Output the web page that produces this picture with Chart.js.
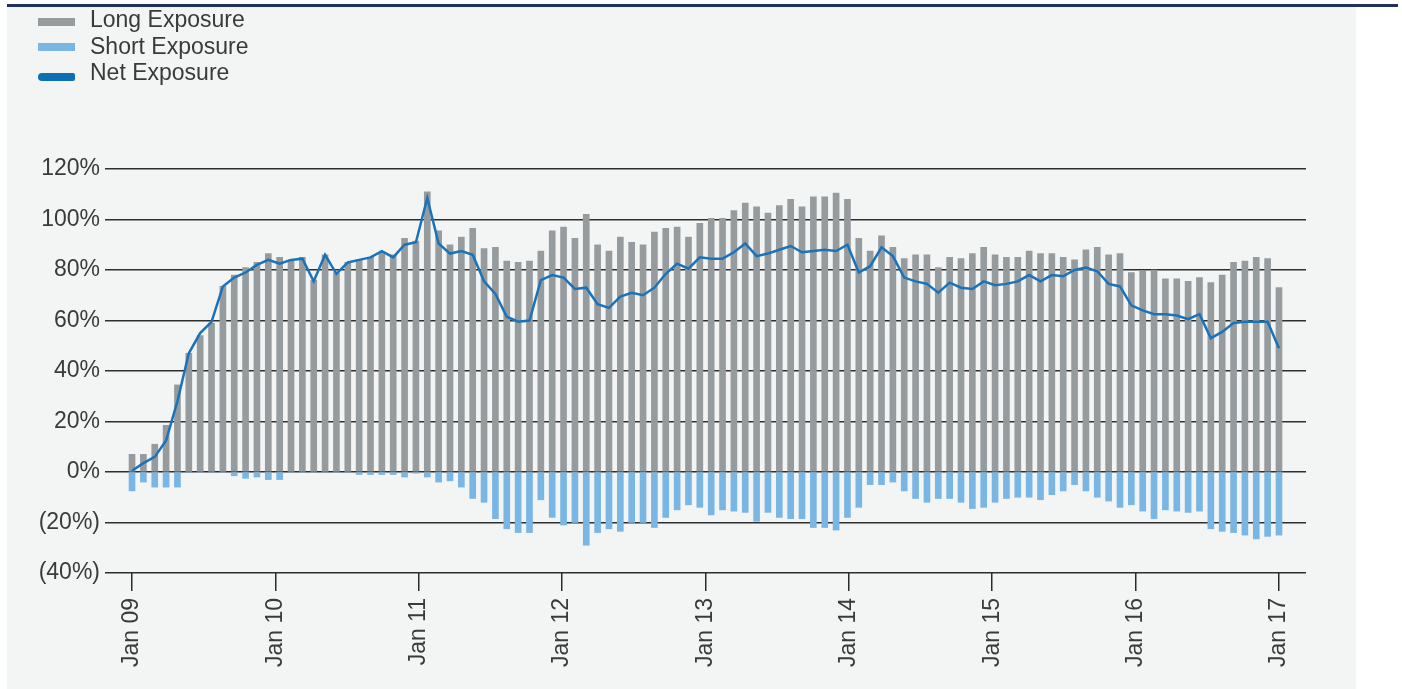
<!DOCTYPE html>
<html>
<head>
<meta charset="utf-8">
<script src="https://cdn.jsdelivr.net/npm/chart.js@4.4.1/dist/chart.umd.min.js"></script>
<style>
  html, body { margin: 0; padding: 0; background: #ffffff; }
  #wrap { position: relative; width: 1402px; height: 689px; overflow: hidden; }
  #panel { position: absolute; left: 7px; top: 6px; width: 1349px; height: 683px; background: #f3f5f5; }
  #topline { position: absolute; left: 7px; top: 4px; width: 1391px; height: 3px; background: #22305e; }
  #grafico { position: absolute; left: 0; top: 0; }
  .leg { position: absolute; left: 90px; font: 23px "Liberation Sans", Arial, sans-serif; color: #3a3a3a; line-height: 27px; white-space: nowrap; }
  .mark { position: absolute; left: 38px; width: 37px; height: 8px; }
</style>
</head>
<body>
<div id="wrap">
  <div id="panel"></div>
  <div id="topline"></div>
  <canvas id="grafico" width="1402" height="689"></canvas>
  <div class="mark" style="top:18px; background:#969b9e;"></div>
  <div class="leg" style="top:6px;">Long Exposure</div>
  <div class="mark" style="top:43px; background:#7ab6e3;"></div>
  <div class="leg" style="top:33px;">Short Exposure</div>
  <div class="mark" style="top:73px; background:#0f6fb4; border-radius:4px 2px 2px 4px;"></div>
  <div class="leg" style="top:59px;">Net Exposure</div>
</div>
<script>
// valores mensais (%)
const longExposure = [7, 7, 11, 18.5, 34.5, 47, 54, 59, 73.5, 78, 81, 83, 86.5, 85, 84, 85, 76,
  86, 79, 83, 84, 85, 87, 86, 92.5, 91.5, 111, 95.5, 90, 93, 96.5, 88.5, 89, 83.5,
  83, 83.5, 87.5, 95.5, 97, 92.5, 102, 90, 87.5, 93, 91, 90, 95, 96.5, 97, 93, 98.5,
  100.5, 100.5, 103.5, 106.5, 105, 102.5, 105.5, 108, 105, 109, 109, 110.5, 108, 92.5, 87.5, 93.5, 89,
  84.5, 86, 86, 81, 85, 84.5, 86.5, 89, 86, 85, 85, 87.5, 86.5, 86.5, 85, 84, 88,
  89, 86, 86.5, 79, 79.5, 80, 76.5, 76.5, 75.5, 77, 75, 78, 83, 83.5, 85, 84.5, 73];

const shortExposure = [-7.5, -4, -6, -6, -6, 0, 0, 0, 0, -1.5, -2.5, -2, -3, -3, 0, 0, 0,
  0, 0, 0, -1, -1, -1, -1, -2, -0.5, -2, -4, -3.5, -6, -10.5, -12, -18.5, -22.5,
  -24, -24, -11, -18, -21, -20, -29, -24, -22.5, -23.5, -20, -20, -22, -18, -15, -13, -14,
  -17, -15, -15.5, -16, -19.5, -16, -18, -18.5, -18.5, -22, -22, -23, -18, -14, -5, -5, -4,
  -7.5, -10.5, -12, -10.5, -10.5, -12, -14.5, -14, -12, -10.5, -10, -10, -11, -9, -7.5, -5, -7.5,
  -10, -11.5, -14, -13, -15.5, -18.5, -15, -15.5, -16, -15.5, -22.5, -23.5, -24, -25, -26.5, -25.5, -25];

const netExposure = [0.5, 3.5, 6, 12.5, 28, 47, 55, 59.5, 73.5, 77, 79, 82, 84, 82.5, 84, 84.5, 75.5,
  86, 78.5, 83, 84, 85, 87.5, 85, 90, 91, 108.5, 90.5, 86.5, 87.5, 86, 75.5, 70.5, 61.5,
  59.5, 60, 76, 78, 77, 72.5, 73, 66.5, 65, 69.5, 71, 70, 73, 78.5, 82.5, 80.5, 85,
  84.5, 84.5, 87, 90.5, 85.5, 86.5, 88, 89.5, 87, 87.5, 88, 87.5, 90, 79, 81.5, 89, 85.5,
  77, 75.5, 74.5, 71, 75, 73, 72.5, 75.5, 74, 74.5, 75.5, 78, 75.5, 78, 77.5, 80, 81,
  79.5, 74.5, 73.5, 66, 64, 62.5, 62.5, 62, 60.5, 62.5, 53, 55.5, 59, 59.5, 59.5, 59.5, 49];

const xLabels = ["Jan 09", "Jan 10", "Jan 11", "Jan 12", "Jan 13", "Jan 14", "Jan 15", "Jan 16", "Jan 17"];
const yTicks = [-40, -20, 0, 20, 40, 60, 80, 100, 120];

const ultimo = longExposure.length - 1;
const pontos = (arr) => arr.map((v, i) => ({ x: i, y: v }));
const fonte = { family: '"Liberation Sans", Arial, sans-serif', size: 23 };
const corTexto = "#3a3a3a";

const ctx = document.getElementById("grafico");

const chart = new Chart(ctx, {
  data: {
    datasets: [
      {
        type: "line",
        label: "Net Exposure",
        data: pontos(netExposure),
        borderColor: "#1a73ba",
        borderWidth: 2.5,
        pointRadius: 0,
        tension: 0,
        order: 0,
      },
      {
        type: "bar",
        label: "Long Exposure",
        data: pontos(longExposure),
        backgroundColor: "#969b9e",
        barThickness: 6,
        grouped: false,
        order: 1,
      },
      {
        type: "bar",
        label: "Short Exposure",
        data: pontos(shortExposure),
        backgroundColor: "#7ab6e3",
        barThickness: 6,
        grouped: false,
        order: 1,
      },
    ],
  },
  options: {
    responsive: false,
    animation: false,
    layout: { padding: { left: 0, right: 96, top: 169, bottom: 0 } },
    plugins: { legend: { display: false }, tooltip: { enabled: false } },
    scales: {
      x: {
        type: "linear",
        offset: false,
        min: -2.38,
        max: ultimo + 2.38,
        afterBuildTicks: (axis) => {
          axis.ticks = xLabels.map((_, k) => ({ value: (k * ultimo) / (xLabels.length - 1) }));
        },
        afterFit: (s) => { s.height = 116; },
        ticks: {
          autoSkip: false,
          minRotation: 90,
          maxRotation: 90,
          padding: 7,
          font: fonte,
          color: corTexto,
          callback: (v, idx) => xLabels[idx],
        },
        grid: { offset: false, drawOnChartArea: false, drawTicks: true, tickLength: 18, color: "#2a2a2a", lineWidth: 1.5 },
        border: { display: false },
      },
      y: {
        min: -40,
        max: 120,
        afterBuildTicks: (axis) => {
          axis.ticks = yTicks.map((v) => ({ value: v }));
        },
        afterFit: (s) => { s.width = 105; },
        ticks: {
          padding: 5,
          font: fonte,
          color: corTexto,
          callback: (v) => (v < 0 ? "(" + Math.abs(v) + "%)" : v + "%"),
        },
        grid: { drawTicks: false, color: "#2e2e2e", lineWidth: 1.5 },
        border: { display: false },
      },
    },
  },
});
</script>
</body>
</html>
